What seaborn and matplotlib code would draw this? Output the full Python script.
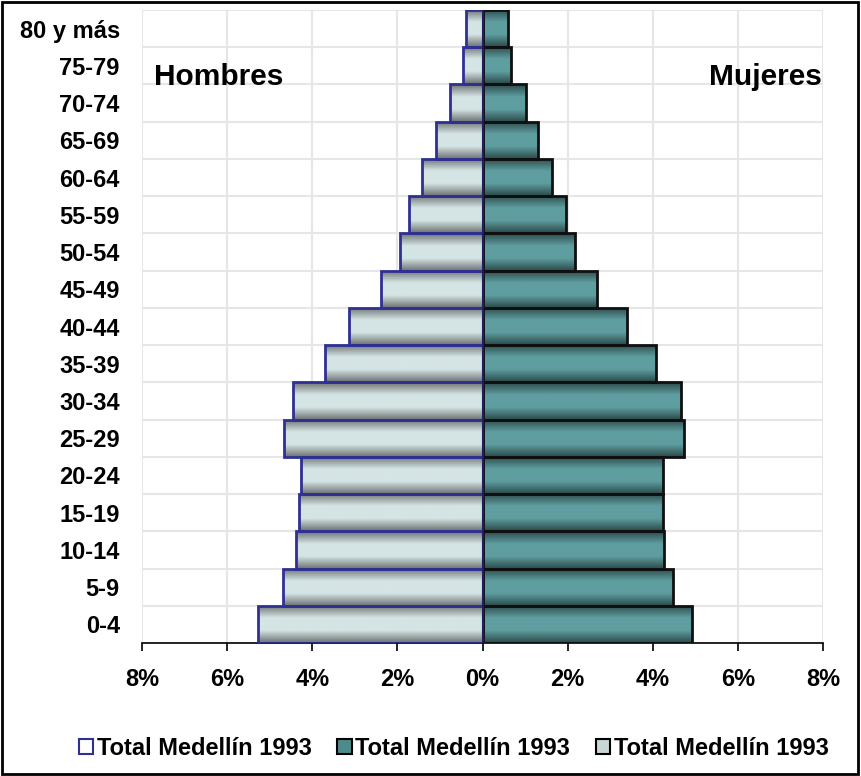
import matplotlib
matplotlib.use("Agg")
import matplotlib.pyplot as plt
import seaborn as sns
import numpy as np
import pandas as pd
from matplotlib.patches import Patch, Rectangle
from matplotlib.colors import LinearSegmentedColormap
from matplotlib.ticker import FuncFormatter

grupos = ["80 y más", "75-79", "70-74", "65-69", "60-64", "55-59", "50-54",
          "45-49", "40-44", "35-39", "30-34", "25-29", "20-24", "15-19",
          "10-14", "5-9", "0-4"]
hombres = [0.38, 0.47, 0.77, 1.10, 1.43, 1.74, 1.95, 2.39, 3.15, 3.71,
           4.46, 4.67, 4.27, 4.32, 4.39, 4.69, 5.28]
mujeres = [0.59, 0.66, 1.03, 1.31, 1.62, 1.97, 2.16, 2.68, 3.40, 4.08,
           4.65, 4.74, 4.25, 4.23, 4.27, 4.48, 4.91]
etiqueta = "Total Medellín 1993"

sns.set_theme(style="white")
plt.rcParams['font.family'] = ['Liberation Sans', 'DejaVu Sans']
plt.rcParams['text.color'] = 'black'

df = pd.DataFrame({"grupo": grupos * 2,
                   "valor": [-h for h in hombres] + mujeres,
                   "sexo": ["H"] * len(grupos) + ["M"] * len(grupos)})

fig = plt.figure(figsize=(8.61, 7.76), dpi=100)
ax = fig.add_axes([0.165, 0.1714, 0.791, 0.8157])

sns.barplot(data=df, x="valor", y="grupo", hue="sexo", orient="h",
            order=grupos, dodge=False, width=1.0, legend=False, ax=ax,
            palette={"H": "#D3E3E3", "M": "#5F9EA0"})

# gradiente vertical dentro de cada barra
cm_h = LinearSegmentedColormap.from_list("h", ["#6E7272", "#D5E4E4", "#D5E4E4", "#6E7272"])
cm_m = LinearSegmentedColormap.from_list("m", ["#2C4A4A", "#5F9EA0", "#5F9EA0", "#2C4A4A"])
grad = np.linspace(0, 1, 64).reshape(-1, 1)

for p in ax.patches:
    x0, y0 = p.get_x(), p.get_y()
    w, h = p.get_width(), p.get_height()
    hombre = w < 0
    im = ax.imshow(grad, cmap=cm_h if hombre else cm_m, aspect="auto",
                   extent=[x0, x0 + w, y0 + h, y0], zorder=2,
                   interpolation="bicubic")
    im.set_clip_path(p)
    p.set_facecolor("none")
    p.set_edgecolor("#2E3192" if hombre else "#101010")
    p.set_linewidth(2)
    p.set_zorder(3)

ax.set_xlim(-8, 8)
ax.set_ylim(len(grupos) - 0.5, -0.5)
ax.set_xticks(np.arange(-8, 9, 2))
ax.xaxis.set_major_formatter(FuncFormatter(lambda v, _: f"{abs(v):.0f}%"))
ax.set_yticks(np.arange(len(grupos) + 1) - 0.5, minor=True)
ax.set_yticks(range(len(grupos)))
ax.set_yticklabels(grupos)
for t in ax.get_xticklabels() + ax.get_yticklabels():
    t.set_fontweight("bold")
    t.set_fontsize(17)
    t.set_color("black")
ax.grid(True, axis="x", color="#E6E6E6", linewidth=1.5, zorder=0)
ax.grid(True, axis="y", which="minor", color="#E6E6E6", linewidth=1.5, zorder=0)
ax.set_axisbelow(True)
ax.set_xlabel("")
ax.set_ylabel("")
ax.tick_params(axis="y", which="both", length=0, pad=16)
ax.tick_params(axis="x", length=6, width=1.2, color="black", pad=12, bottom=True)
for s in ["top", "right", "left"]:
    ax.spines[s].set_visible(False)
ax.spines["bottom"].set_color("black")
ax.spines["bottom"].set_linewidth(1.2)
ax.axvline(0, color="#1F1F5F", linewidth=1.5, zorder=4)

ax.text(0.018, 0.894, "Hombres", transform=ax.transAxes, fontsize=21.5,
        fontweight="bold", ha="left", va="center", color="black")
ax.text(0.998, 0.894, "Mujeres", transform=ax.transAxes, fontsize=21.5,
        fontweight="bold", ha="right", va="center", color="black")

handles = [Patch(facecolor="white", edgecolor="#2E3192", linewidth=1.5),
           Patch(facecolor="#4E8C8C", edgecolor="black", linewidth=1.5),
           Patch(facecolor="#C8D6D6", edgecolor="black", linewidth=1.5)]
fig.legend(handles, [etiqueta] * 3, loc="center", bbox_to_anchor=(0.527, 0.036),
           ncol=3, frameon=False, handlelength=0.6, handleheight=0.6,
           handletextpad=0.15, columnspacing=1.1,
           prop={"weight": "bold", "size": 17})

fig.patches.append(Rectangle((0.002, 0.003), 0.994, 0.994, transform=fig.transFigure,
                             fill=False, edgecolor="black", linewidth=2))

fig.savefig("out.png", dpi=100)
